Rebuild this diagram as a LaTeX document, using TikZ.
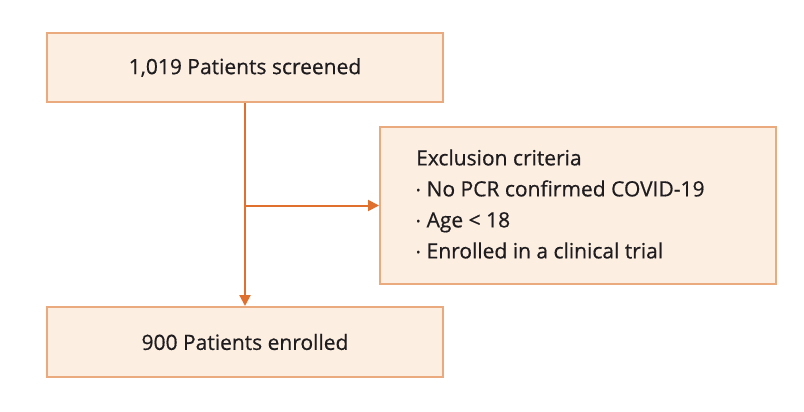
\documentclass[tikz,border=0pt]{standalone}
\usepackage{fontspec}
\setmainfont{Open Sans}[FakeBold=0.6]
\usetikzlibrary{arrows.meta}
\definecolor{boxedge}{HTML}{EBAA7E}
\definecolor{boxfill}{HTML}{FDEEE2}
\definecolor{arr}{HTML}{E0702E}
\definecolor{txt}{HTML}{1E1C1E}
\newcommand{\bul}{\raisebox{0.2ex}{\fontsize{11}{11}\selectfont\textbullet}\hspace{0.3em}}
\tikzset{
  box/.style={draw=boxedge, fill=boxfill, line width=2pt, inner sep=0pt, text=txt},
  conn/.style={draw=arr, line width=2pt, -{Triangle[length=11pt,width=11pt]}},
  lbl/.style={text=txt, font=\fontsize{21}{31}\selectfont},
}
\begin{document}
\begin{tikzpicture}[x=1pt,y=-1pt]
\useasboundingbox (0,0) rectangle (804,412);
\node[box, lbl, minimum width=396pt, minimum height=69pt] (scr) at (245,67.5) {1,019 Patients screened};
\node[box, minimum width=396pt, minimum height=157pt] (exc) at (578,205.5) {};
\node[lbl, anchor=west, align=left, inner sep=0pt] (exct) at (416,204) {Exclusion criteria\\\bul No PCR confirmed COVID-19\\\bul Age {<} 18\\\bul Enrolled in a clinical trial};
\node[box, lbl, minimum width=396pt, minimum height=70pt] (enr) at (245,342) {900 Patients enrolled};
\coordinate (br) at (scr.south |- exc.west);
\draw[conn] (scr.south) -- (enr.north);
\draw[conn] (br) -- (exc.west);
\end{tikzpicture}
\end{document}
